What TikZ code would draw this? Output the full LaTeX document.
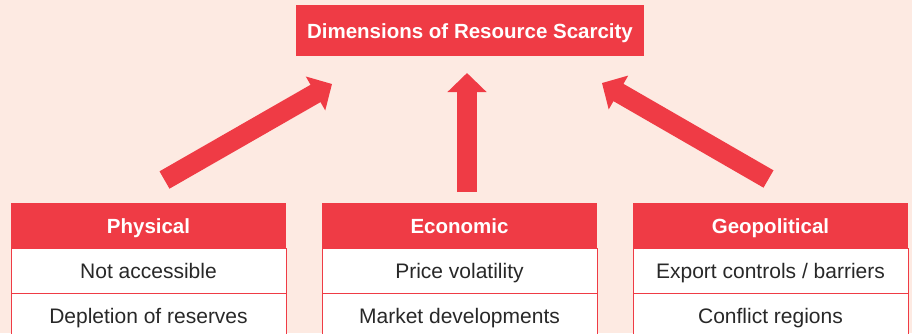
\documentclass[tikz,border=0pt]{standalone}
\usepackage{fontspec}
\setmainfont{Liberation Sans}
\usetikzlibrary{positioning,arrows.meta}
\definecolor{scarcityRed}{RGB}{239,59,69}
\definecolor{scarcityBg}{RGB}{253,234,226}
\definecolor{cellText}{RGB}{40,40,40}
\newcommand{\boxWidth}[0]{275pt}

\begin{document}
\begin{tikzpicture}[x=1pt, y=-1pt]
  \tikzset{
    head/.style={fill=scarcityRed, text=white, font=\fontsize{20.5}{24}\selectfont\bfseries,
      minimum width=\boxWidth, minimum height=45pt, text height=15pt, text depth=0pt,
      inner sep=0pt, outer sep=0pt},
    cell/.style={draw=scarcityRed, line width=1pt, fill=white, text=cellText,
      font=\fontsize{21}{24}\selectfont, minimum width=\boxWidth, minimum height=45pt,
      text height=15pt, text depth=0pt, inner sep=0pt, outer sep=0pt},
    bigarrow/.style={draw=scarcityRed, line width=20pt, -{Triangle[length=19pt,width=38pt]}}
  }
  \fill[scarcityBg] (0,0) rectangle (912,333);
  \clip (0,0) rectangle (912,333);

  % title
  \node[head, minimum width=348pt, minimum height=51pt] (title) at (470,30.5) {Dimensions of Resource Scarcity};

  % the three dimensions
  \node[head] (phys) at (148.5,225.5) {Physical};
  \node[head, right=36pt of phys] (econ) {Economic};
  \node[head, right=36pt of econ] (geo) {Geopolitical};
  \node[cell, below=0pt of phys] (physA) {Not accessible};
  \node[cell, below=0pt of physA] (physB) {Depletion of reserves};
  \node[cell, below=0pt of econ] (econA) {Price volatility};
  \node[cell, below=0pt of econA] (econB) {Market developments};
  \node[cell, below=0pt of geo] (geoA) {Export controls / barriers};
  \node[cell, below=0pt of geoA] (geoB) {Conflict regions};

  % arrows
  \coordinate (physTail) at (164.5,180);
  \coordinate (physTip) at (332,84);
  \coordinate (econTail) at (467,192);
  \coordinate (econTip) at (467,73);
  \coordinate (geoTail) at (768.5,179);
  \coordinate (geoTip) at (602,83);
  \draw[bigarrow] (physTail) -- (physTip);
  \draw[bigarrow] (econTail) -- (econTip);
  \draw[bigarrow] (geoTail) -- (geoTip);
\end{tikzpicture}
\end{document}
